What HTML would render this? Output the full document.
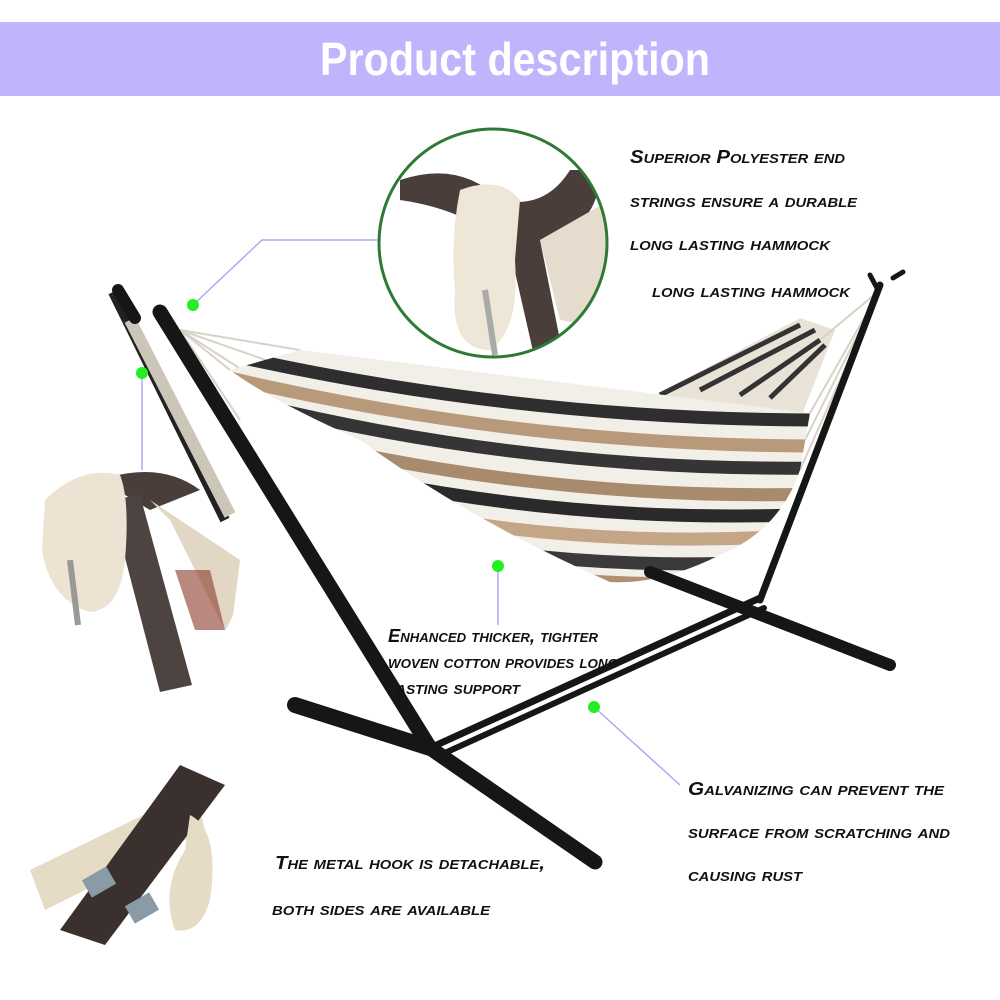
<!DOCTYPE html>
<html><head><meta charset="utf-8"><style>
html,body{margin:0;padding:0;background:#fff;}
svg{display:block}
.t{font-family:"Liberation Sans Narrow","Liberation Sans",sans-serif;font-style:italic;font-weight:bold;font-variant:small-caps;font-size:18px;fill:#111;}
</style></head><body>
<svg width="1000" height="1000" viewBox="0 0 1000 1000" xmlns="http://www.w3.org/2000/svg">
<rect width="1000" height="1000" fill="#fff"/>
<rect x="0" y="22" width="1000" height="74" fill="#c0b4fd"/>
<text x="515" y="75" text-anchor="middle" font-family="Liberation Sans Narrow,Liberation Sans,sans-serif" font-weight="bold" font-size="46" fill="#fff" textLength="390" lengthAdjust="spacingAndGlyphs">Product description</text>

<defs>
<clipPath id="body"><path d="M300,350 L810,413 L800,470 Q780,530 720,555 Q660,585 610,582 Q470,520 360,440 Q270,400 230,370 Z"/></clipPath>
<clipPath id="c1"><circle cx="493" cy="243" r="114"/></clipPath>
<clipPath id="c2"><path d="M40,500 Q90,470 160,470 Q230,490 240,560 Q240,610 225,630 L180,690 L120,690 L60,620 Q30,560 40,500Z"/></clipPath>
</defs>

<line x1="113" y1="292" x2="225" y2="520" stroke="#222" stroke-width="10"/>
<line x1="130" y1="320" x2="230" y2="515" stroke="#ccc6b8" stroke-width="12"/>
<path d="M650,398 L800,318 L835,330 L800,420 Z" fill="#e9e2d6"/>
<path d="M660,395 L800,325 M700,390 L815,330 M740,395 L820,340 M770,398 L825,345" stroke="#333" stroke-width="5"/>
<g stroke="#d8d2c6" stroke-width="2">
<line x1="180" y1="330" x2="300" y2="350"/><line x1="180" y1="330" x2="280" y2="365"/><line x1="180" y1="330" x2="250" y2="375"/><line x1="180" y1="330" x2="230" y2="370"/><line x1="180" y1="330" x2="240" y2="420"/>
<line x1="880" y1="290" x2="810" y2="413"/><line x1="880" y1="290" x2="805" y2="440"/><line x1="880" y1="290" x2="800" y2="470"/><line x1="880" y1="290" x2="820" y2="340"/>
</g>
<g clip-path="url(#body)">
<rect x="200" y="300" width="650" height="320" fill="#f2eee8"/>
<g fill="none" stroke-width="13">
<path d="M230,355 Q520,420 820,420" stroke="#2e2e2e"/>
<path d="M230,378 Q520,446 820,446" stroke="#b89a7a"/>
<path d="M230,398 Q520,472 820,468" stroke="#353535"/>
<path d="M230,424 Q520,502 820,494" stroke="#a88b6c"/>
<path d="M230,446 Q520,528 820,514" stroke="#2a2a2a"/>
<path d="M230,470 Q520,558 820,534" stroke="#c4a585"/>
<path d="M230,494 Q520,584 820,558" stroke="#3a3a3a"/>
<path d="M230,516 Q520,604 820,578" stroke="#b09070"/>
</g>
</g>
<g stroke="#161616" stroke-linecap="round" fill="none">
<line x1="295" y1="705" x2="430" y2="748" stroke-width="16"/>
<path d="M160,312 L430,748 Q520,810 595,862" stroke-width="15"/>
<line x1="430" y1="748" x2="760" y2="598" stroke-width="7"/>
<line x1="436" y1="757" x2="764" y2="608" stroke-width="6"/>
<line x1="650" y1="572" x2="890" y2="665" stroke-width="12"/>
<line x1="880" y1="285" x2="760" y2="600" stroke-width="7"/>
<line x1="118" y1="290" x2="135" y2="318" stroke-width="12"/>
<line x1="870" y1="275" x2="878" y2="290" stroke-width="5"/>
<line x1="893" y1="278" x2="903" y2="272" stroke-width="5"/>
</g>

<circle cx="493" cy="243" r="114" fill="#fff"/>
<g clip-path="url(#c1)">
<path d="M400,180 Q460,160 500,200 Q545,210 570,170 L600,170 Q600,230 540,240 L560,340 L535,360 L510,250 Q470,210 400,200Z" fill="#4a3e3a"/>
<path d="M540,240 L610,200 L610,330 L560,320Z" fill="#e6dccd"/>
<path d="M460,190 Q500,175 520,200 L515,260 Q520,330 490,350 Q450,350 455,290 Q450,240 460,190Z" fill="#eee6d6"/>
<line x1="485" y1="290" x2="495" y2="355" stroke="#aaa" stroke-width="6"/>
</g>
<circle cx="493" cy="243" r="114" fill="none" stroke="#2e7a35" stroke-width="3"/>

<g clip-path="url(#c2)">
<path d="M100,480 Q160,460 200,490 L150,510Z" fill="#4a3e3a"/>
<path d="M150,500 L240,560 L230,640 L170,520Z" fill="#e2d6c4"/>
<path d="M175,570 L210,570 L225,630 L195,630Z" fill="#8a3a2a" opacity=".6"/>
</g>
<path d="M110,500 L140,495 L192,685 L160,692Z" fill="#4d4340"/>
<path d="M45,500 Q80,465 120,475 Q130,500 125,560 Q120,610 90,612 Q50,600 42,550Z" fill="#ece3d2"/>
<line x1="70" y1="560" x2="78" y2="625" stroke="#999" stroke-width="6"/>

<path d="M30,870 L195,790 L205,830 L45,910Z" fill="#e6dcc6"/>
<path d="M180,765 L225,785 L105,945 L60,930Z" fill="#3a302e"/>
<path d="M190,815 Q220,830 210,900 Q200,935 175,930 Q160,890 185,850Z" fill="#e6dcc6"/>
<rect x="85" y="872" width="28" height="20" fill="#8a9aa6" transform="rotate(-30 99 882)"/>
<rect x="128" y="898" width="28" height="20" fill="#8a9aa6" transform="rotate(-30 142 908)"/>

<g stroke="#b0a8f0" stroke-width="1.5" fill="none">
<polyline points="193,305 262,240 378,240"/>
<line x1="142" y1="373" x2="142" y2="470"/>
<line x1="498" y1="566" x2="498" y2="625"/>
<line x1="594" y1="707" x2="680" y2="785"/>
</g>
<g fill="#22ee22">
<circle cx="193" cy="305" r="6"/><circle cx="142" cy="373" r="6"/><circle cx="498" cy="566" r="6"/><circle cx="594" cy="707" r="6"/>
</g>

<text class="t" x="630" y="163" textLength="215" lengthAdjust="spacingAndGlyphs">Superior Polyester end</text>
<text class="t" x="630" y="207" textLength="227" lengthAdjust="spacingAndGlyphs">strings ensure a durable</text>
<text class="t" x="630" y="250" textLength="200" lengthAdjust="spacingAndGlyphs">long lasting hammock</text>
<text class="t" x="652" y="297" textLength="198" lengthAdjust="spacingAndGlyphs">long lasting hammock</text>
<text class="t" x="388" y="642" textLength="210" lengthAdjust="spacingAndGlyphs">Enhanced thicker, tighter</text>
<text class="t" x="388" y="668" textLength="230" lengthAdjust="spacingAndGlyphs">woven cotton provides long</text>
<text class="t" x="396" y="694" textLength="124" lengthAdjust="spacingAndGlyphs">asting support</text>
<text class="t" x="688" y="795" textLength="256" lengthAdjust="spacingAndGlyphs">Galvanizing can prevent the</text>
<text class="t" x="688" y="838" textLength="262" lengthAdjust="spacingAndGlyphs">surface from scratching and</text>
<text class="t" x="688" y="881" textLength="114" lengthAdjust="spacingAndGlyphs">causing rust</text>
<text class="t" x="275" y="869" textLength="270" lengthAdjust="spacingAndGlyphs">The metal hook is detachable,</text>
<text class="t" x="272" y="915" textLength="218" lengthAdjust="spacingAndGlyphs">both sides are available</text>
</svg>
</body></html>
